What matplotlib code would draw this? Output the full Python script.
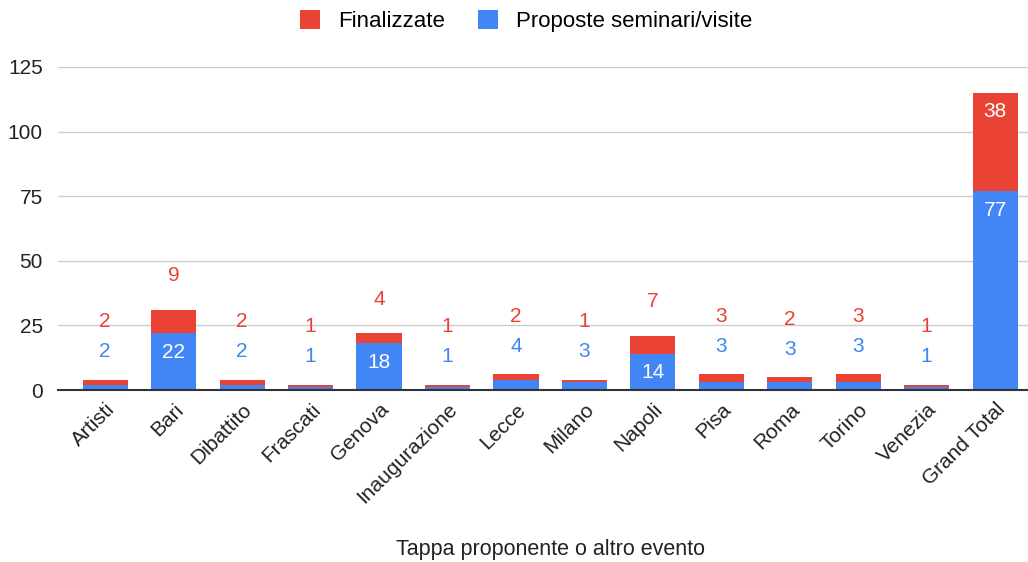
import matplotlib.pyplot as plt
import numpy as np
from matplotlib.patches import FancyBboxPatch, Patch

plt.rcParams['font.family'] = ['Liberation Sans', 'DejaVu Sans']

# dati
categorie = ['Artisti', 'Bari', 'Dibattito', 'Frascati', 'Genova', 'Inaugurazione', 'Lecce',
             'Milano', 'Napoli', 'Pisa', 'Roma', 'Torino', 'Venezia', 'Grand Total']
proposte = [2, 22, 2, 1, 18, 1, 4, 3, 14, 3, 3, 3, 1, 77]
finalizzate = [2, 9, 2, 1, 4, 1, 2, 1, 7, 3, 2, 3, 1, 38]

ROSSO = '#EA4335'
BLU = '#4285F4'

fig = plt.figure(figsize=(10.28, 5.62), dpi=100)
ax = fig.add_axes([58 / 1028, 1 - 390 / 562, 1 - 58 / 1028, 323 / 562])

x = np.arange(len(categorie))
w = 0.66
ax.bar(x, proposte, w, color=BLU, zorder=3)
ax.bar(x, finalizzate, w, bottom=proposte, color=ROSSO, zorder=3)

# etichette: dentro la barra se c'e' spazio, altrimenti sopra
soglia = 10
fs_lab = 15
for i in range(len(categorie)):
    b, r = proposte[i], finalizzate[i]
    top = b + r
    fuori = 0
    if b >= soglia:
        ax.annotate(str(b), (x[i], b), xytext=(0, -19), textcoords='offset pixels',
                    ha='center', va='center', color='white', fontsize=fs_lab, zorder=4)
    else:
        fuori = 28
        ax.annotate(str(b), (x[i], top), xytext=(0, fuori), textcoords='offset pixels',
                    ha='center', va='center', color=BLU, fontsize=fs_lab, zorder=4)
    if r >= soglia:
        ax.annotate(str(r), (x[i], top), xytext=(0, -19), textcoords='offset pixels',
                    ha='center', va='center', color='white', fontsize=fs_lab, zorder=4)
    else:
        off = fuori + 30 if fuori else 34
        ax.annotate(str(r), (x[i], top), xytext=(0, off), textcoords='offset pixels',
                    ha='center', va='center', color=ROSSO, fontsize=fs_lab, zorder=4)

ax.set_xlim(-0.69, 13.48)
ax.set_ylim(0, 125)
ax.set_yticks([0, 25, 50, 75, 100, 125])
ax.grid(axis='y', color='#cccccc', linewidth=1, zorder=0)
for s in ['top', 'right', 'left']:
    ax.spines[s].set_visible(False)
ax.spines['bottom'].set_color('#333333')
ax.spines['bottom'].set_linewidth(1.5)
ax.spines['bottom'].set_zorder(5)
ax.tick_params(axis='both', length=0, labelsize=15, colors='#222222')
ax.tick_params(axis='y', pad=11)
ax.set_xticks(x)
ax.set_xticklabels(categorie, rotation=45, ha='right', rotation_mode='anchor')
ax.tick_params(axis='x', pad=7)

fig.text(550 / 1028, 1 - 550 / 562, 'Tappa proponente o altro evento', ha='center', va='center',
         fontsize=15.5, color='#222222')

maniglie = [Patch(facecolor=ROSSO, label='Finalizzate'),
            Patch(facecolor=BLU, label='Proposte seminari/visite')]
fig.legend(handles=maniglie, loc='center', bbox_to_anchor=(526 / 1028, 1 - 21 / 562), ncol=2,
           frameon=False, fontsize=16, handlelength=0.9, handleheight=0.9, columnspacing=1.5,
           handletextpad=0.8)

plt.savefig('out.png', dpi=100)
